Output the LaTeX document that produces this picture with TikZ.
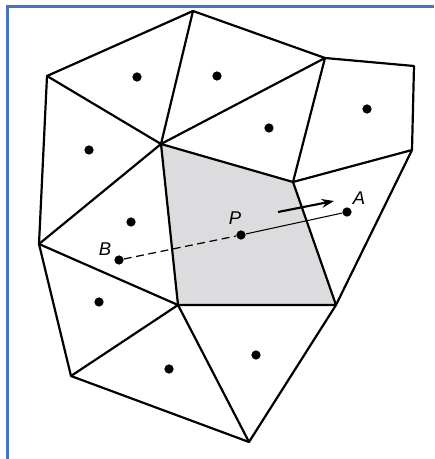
\documentclass[tikz,border=0pt]{standalone}
\usepackage{fontspec}
\setmainfont{Liberation Sans}
\usetikzlibrary{arrows.meta}
\definecolor{framblue}{RGB}{68,114,196}
\definecolor{cellgray}{RGB}{220,220,222}

\begin{document}
\begin{tikzpicture}[x=0.02cm, y=-0.02cm,
    edge/.style={line width=1.25pt, line join=round},
    dot/.style={circle, fill=black, inner sep=0pt, minimum size=1.85mm},
    lbl/.style={font=\fontsize{10.5}{12}\selectfont\itshape, inner sep=0pt}]
  \useasboundingbox (0,0) rectangle (434,459);

  % Frame
  \draw[framblue, line width=1.2pt] (7.5,459) -- (7.5,6.5) -- (434,6.5);

  % Mesh vertices
  \coordinate (t)  at (193,11);
  \coordinate (l1) at (47,76);
  \coordinate (c)  at (161,144);
  \coordinate (ur) at (325,58);
  \coordinate (fr) at (414,66);
  \coordinate (r)  at (412,150);
  \coordinate (s)  at (293,182);
  \coordinate (l2) at (39,244);
  \coordinate (bc) at (178,305);
  \coordinate (sb) at (336,305);
  \coordinate (bl) at (71,376);
  \coordinate (b)  at (249,442);

  % Shaded cell
  \fill[cellgray] (c) -- (s) -- (sb) -- (bc) -- cycle;

  % Cell edges
  \draw[edge] (l1) -- (t) -- (ur) -- (fr) -- (r) -- (sb) -- (b) -- (bl) -- (l2) -- cycle;
  \draw[edge] (t) -- (c);
  \draw[edge] (l1) -- (c);
  \draw[edge] (ur) -- (c);
  \draw[edge] (ur) -- (s);
  \draw[edge] (r) -- (s);
  \draw[edge] (c) -- (s) -- (sb) -- (bc) -- cycle;
  \draw[edge] (l2) -- (c);
  \draw[edge] (l2) -- (bc);
  \draw[edge] (bl) -- (bc);
  \draw[edge] (bc) -- (b);

  % Cell centres
  \node[dot] (d1) at (137,77) {};
  \node[dot] (d2) at (217,76) {};
  \node[dot] (d3) at (367,109) {};
  \node[dot] (d4) at (269,128) {};
  \node[dot] (d5) at (89,150) {};
  \node[dot] (d6) at (131,222) {};
  \node[dot] (pa) at (347,212) {};
  \node[dot] (pp) at (241,235) {};
  \node[dot] (pb) at (119,260) {};
  \node[dot] (d7) at (99,302) {};
  \node[dot] (d8) at (169,369) {};
  \node[dot] (d9) at (256,355) {};

  % Labels
  \node[lbl] at (359,198) {A};
  \node[lbl] at (235,218) {P};
  \node[lbl] at (105,249) {B};

  % Connections
  \draw[line width=0.6pt] (pp) -- (pa);
  \draw[line width=0.7pt, dash pattern=on 4.5pt off 2.6pt] (pb) -- (pp);

  % Flow direction
  \coordinate (f1) at (278,212);
  \coordinate (f2) at (334,201);
  \draw[line width=1.2pt, -{Stealth[length=7pt, width=5pt]}] (f1) -- (f2);
\end{tikzpicture}
\end{document}
